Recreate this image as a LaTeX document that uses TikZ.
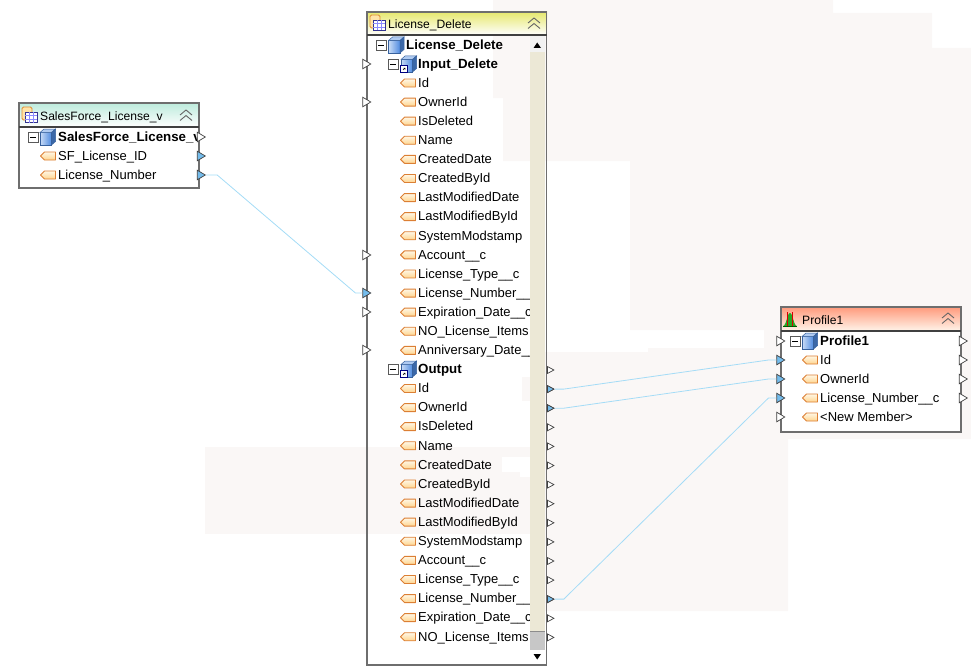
\documentclass[tikz,border=0pt]{standalone}
\usepackage{fontspec}
\setmainfont{Liberation Sans}
\usetikzlibrary{shapes.geometric,calc}
\definecolor{bgpatch}{HTML}{FAF7F6}
\definecolor{framegray}{HTML}{6E6E6E}
\definecolor{linkblue}{HTML}{A4DCF6}
\definecolor{portblue}{HTML}{74BCEC}
\definecolor{tagorange}{HTML}{DC7F34}
\definecolor{tagfill}{HTML}{FFE4A8}
\definecolor{trackcream}{HTML}{ECE8D6}
\definecolor{cubeblue}{HTML}{4F8BE0}
\definecolor{headteal}{HTML}{BDEBDC}
\definecolor{headyellow}{HTML}{E6E86E}
\definecolor{headred}{HTML}{FF9A7C}
\tikzset{
  member/.style={anchor=west,inner sep=0pt,yshift=-.8pt,font=\fontsize{13}{15}\selectfont,text height=9pt,text depth=2pt},
  parent/.style={member,font=\fontsize{13.3}{15}\selectfont\bfseries},
  caption/.style={anchor=west,inner sep=0pt,yshift=-1.3pt,font=\fontsize{12.1}{14}\selectfont},
  port/.style={isosceles triangle,isosceles triangle stretches,draw=black!75,fill=white,line width=.7pt,
    minimum height=8pt,minimum width=9.5pt,inner sep=0pt},
  portlinked/.style={port,fill=portblue},
  smallport/.style={port,minimum height=6.5pt,minimum width=7pt},
  smalllinked/.style={smallport,fill=portblue},
  link/.style={draw=linkblue,line width=.8pt},
  tag/.pic={
    \draw[tagorange,top color=white!70!tagfill,bottom color=tagfill!85!orange,line width=.9pt,line join=round]
      (-7.5,0) -- (-3.5,-4) -- (7.5,-4) -- (7.5,4) -- (-3.5,4) -- cycle;
  },
  expander/.pic={
    \draw[black!65,fill=white,line width=.9pt] (-5,-5) rectangle (5,5);
    \draw[black,line width=.8pt] (-3,0) -- (3,0);
  },
  cube/.pic={
    \draw[cubeblue!70!black,left color=white!70!cubeblue,right color=cubeblue,line width=.5pt] (-7.5,-4.5) rectangle (4,8);
    \draw[cubeblue!70!black,fill=cubeblue!45!white,line width=.5pt] (-7.5,-4.5) -- (-3.5,-8) -- (8,-8) -- (4,-4.5) -- cycle;
    \draw[cubeblue!70!black,fill=cubeblue!75!black,line width=.5pt] (4,-4.5) -- (8,-8) -- (8,4.5) -- (4,8) -- cycle;
  },
  linkcube/.pic={
    \pic {cube};
    \draw[blue!50!black,fill=white,line width=.6pt] (-8,1.5) rectangle (-1,8.5);
    \draw[black,line width=.5pt] (-5.5,6) -- (-3.5,4) (-5,4) -- (-3.5,4) -- (-3.5,5.5);
  },
  tableicon/.pic={
    \draw[tagorange!90!yellow,fill=tagfill,line width=.8pt,rounded corners=1.5pt] (-9,-9) rectangle (1,4);
    \draw[blue!45!black!80,fill=white,line width=.6pt] (-6,-4) rectangle (6,6.5);
    \draw[blue!45!white,line width=.5pt] (-6,-.5) -- (6,-.5) (-6,3) -- (6,3) (-2,-4) -- (-2,6.5) (2,-4) -- (2,6.5);
  },
  chevrons/.pic={
    \draw[black!60,line width=.9pt] (-6,-1) -- (0,-6) -- (6,-1);
    \draw[black!60,line width=.9pt] (-6,4.5) -- (0,-.5) -- (6,4.5);
  },
  chart/.pic={
    \fill[green!60!black!85] (-7,7) .. controls (-3.5,7) and (-3,-6) .. (0,-6) .. controls (3,-6) and (3.5,7) .. (7,7) -- cycle;
    \draw[red!85!black,line width=.7pt] (-2.5,7) -- (-2.5,-7) (2.5,7) -- (2.5,-7);
    \draw[green!35!black,line width=.7pt] (-7,7) -- (7,7);
  }
}
\begin{document}
\begin{tikzpicture}[x=1pt,y=-1pt]
\useasboundingbox (0,0) rectangle (971,669);

% faint patches behind the diagram
\fill[bgpatch] (493,0) -- (833,0) -- (833,13) -- (932,13) -- (932,48) -- (971,48) -- (971,439) -- (788,439)
  -- (788,611) -- (540,611) -- (540,352) -- (648,352) -- (648,348) -- (764,348) -- (764,330) -- (630,330)
  -- (630,161) -- (503,161) -- (503,98) -- (493,98) -- cycle;
\fill[bgpatch] (205,447) rectangle (532,534);
\fill[white] (502,457) rectangle (532,472);
\fill[white] (520,472) rectangle (532,477);
\fill[bgpatch] (522,377) rectangle (532,401);

% SalesForce_License_v
\fill[white] (19,103) rectangle (199,188);
\shade[top color=headteal,bottom color=white] (19,103) rectangle (199,127);
\draw[framegray,line width=1.4pt] (19,103) rectangle (199,188);
\draw[black!75,line width=1.6pt] (19,127) -- (199,127);
\pic at (31,116) {tableicon};
\node[caption] (viewtitle) at (40,116) {SalesForce\_License\_v};
\pic at (186,116) {chevrons};
\pic at (33,137) {expander};
\pic at (47.5,137) {cube};
\begin{scope}
\clip (57,128) rectangle (197,147);
\node[parent] (viewroot) at (58,137) {SalesForce\_License\_v};
\end{scope}
\pic at (48,156) {tag};
\node[member] (viewid) at (58,156) {SF\_License\_ID};
\pic at (48,175) {tag};
\node[member] (viewnumber) at (58,175) {License\_Number};
\node[port] (viewrootport) at (200,137) {};
\node[portlinked] (viewidport) at (200,156) {};
\node[portlinked] (viewnumberport) at (200,175) {};

% License_Delete
\shade[top color=headyellow,bottom color=white] (367,12) rectangle (547,35);
\pic at (379,24) {tableicon};
\node[caption] (deletetitle) at (388,24) {License\_Delete};
\pic at (534,24) {chevrons};
\pic at (381,45) {expander};
\pic at (396,45) {cube};
\node[parent] (deleteroot) at (406,45) {License\_Delete};
\foreach \i/\lab in {0/Id,1/OwnerId,2/IsDeleted,3/Name,4/CreatedDate,5/CreatedById,6/LastModifiedDate,
  7/LastModifiedById,8/SystemModstamp,9/Account\_\_c,10/License\_Type\_\_c,11/License\_Number\_\_c,
  12/Expiration\_Date\_\_c,13/NO\_License\_Items,14/Anniversary\_Date\_\_c}{
  \pic at (408,83+19.097*\i) {tag};
  \node[member] (input\i) at (418,83+19.097*\i) {\lab};
}
\foreach \i/\lab in {0/Id,1/OwnerId,2/IsDeleted,3/Name,4/CreatedDate,5/CreatedById,6/LastModifiedDate,
  7/LastModifiedById,8/SystemModstamp,9/Account\_\_c,10/License\_Type\_\_c,11/License\_Number\_\_c,
  12/Expiration\_Date\_\_c,13/NO\_License\_Items}{
  \pic at (408,388.5+19.097*\i) {tag};
  \node[member] (output\i) at (418,388.5+19.097*\i) {\lab};
}
\pic at (393,64) {expander};
\pic at (408.5,64) {linkcube};
\node[parent] (inputroot) at (418,64) {Input\_Delete};
\pic at (393,369) {expander};
\pic at (408.5,369) {linkcube};
\node[parent] (outputroot) at (418,369) {Output};

% scrollbar
\fill[trackcream] (530,36) rectangle (545,650);
\fill[black!22] (530,631) rectangle (545,650);
\draw[black!45,line width=.6pt] (530,631) -- (545,631);
\fill[black!5] (530,36) rectangle (545,52);
\fill[white] (530,650) rectangle (545,665);
\fill[black] (533.5,48) -- (541,48) -- (537.2,42.5) -- cycle;
\fill[black] (533.5,654) -- (541,654) -- (537.2,659.5) -- cycle;
\draw[framegray,line width=1.4pt] (367,12) rectangle (546.5,665);
\draw[black!75,line width=1.6pt] (367,35) -- (547,35);

\foreach \i/\name in {64/inputrootport,102/ownerport,255/accountport,312/expiryport,350/anniversaryport}{
  \node[port] (\name) at (365.5,\i) {};
}
\node[portlinked] (numberin) at (365.5,293) {};
\foreach \i in {0,...,14}{
  \node[smallport] (outport\i) at (549.5,370+19.1*\i) {};
}
\node[smalllinked] (outid) at (549.5,389.1) {};
\node[smalllinked] (outowner) at (549.5,408.2) {};
\node[smalllinked] (outnumber) at (549.5,599.1) {};

% Profile1
\fill[white] (781,307) rectangle (961,432);
\shade[top color=headred,bottom color=white!92!orange] (781,307) rectangle (961,331);
\pic at (790,319) {chart};
\node[caption] (profiletitle) at (802,319) {Profile1};
\pic at (948,319) {chevrons};
\pic at (795,341) {expander};
\pic at (809.5,341) {cube};
\node[parent] (profileroot) at (820,341) {Profile1};
\foreach \i/\lab in {1/Id,2/OwnerId,3/License\_Number\_\_c,4/<New Member>}{
  \pic at (810,341+19*\i) {tag};
  \node[member] (profile\i) at (820,341+19*\i) {\lab};
}
\draw[framegray,line width=1.4pt] (781,307) rectangle (961,432);
\draw[black!75,line width=1.6pt] (781,331) -- (961,331);
\node[port] (profilein0) at (779.5,341) {};
\node[portlinked] (profilein1) at (779.5,360) {};
\node[portlinked] (profilein2) at (779.5,379) {};
\node[portlinked] (profilein3) at (779.5,398) {};
\node[port] (profilein4) at (779.5,417) {};
\foreach \i in {0,...,3}{
  \node[port] (profileout\i) at (962,341+19*\i) {};
}

% links
\draw[link] (viewnumberport.apex) -- ++(11,0) -- ($(numberin.west)+(-7,0)$) -- (numberin.west);
\draw[link] (outid.apex) -- ++(9,0) -- ($(profilein1.west)+(-8,0)$) -- (profilein1.west);
\draw[link] (outowner.apex) -- ++(9,0) -- ($(profilein2.west)+(-8,0)$) -- (profilein2.west);
\draw[link] (outnumber.apex) -- ++(9,0) -- ($(profilein3.west)+(-8,0)$) -- (profilein3.west);
\end{tikzpicture}
\end{document}
